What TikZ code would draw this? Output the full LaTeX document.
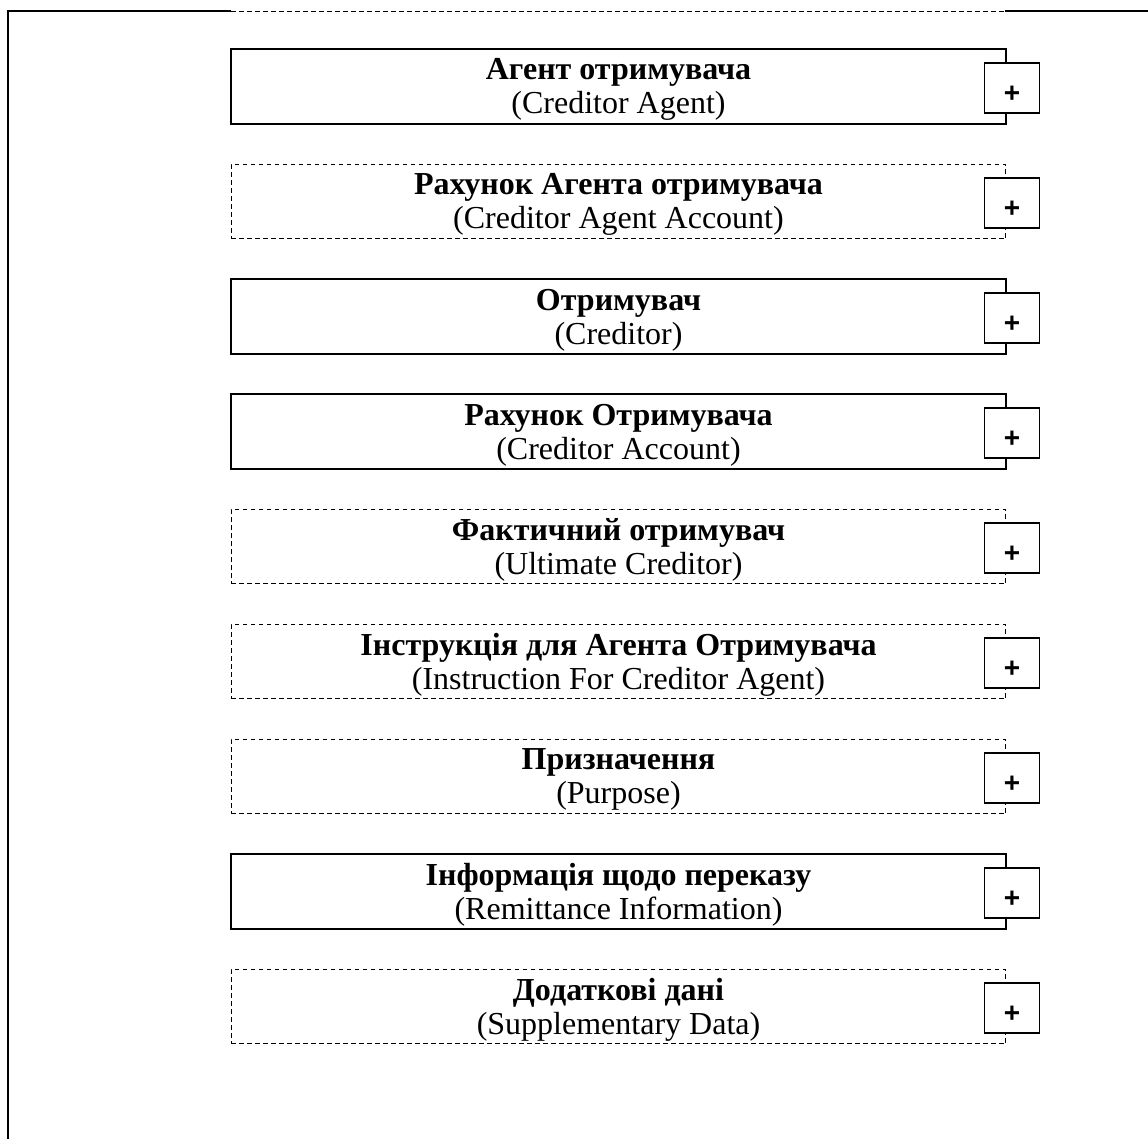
\documentclass[tikz,border=0pt]{standalone}
\usepackage{fontspec}
\setmainfont{Liberation Serif}
\newfontfamily\plusfont{Liberation Sans}
\usetikzlibrary{positioning}

\tikzset{
  elem/.style={rectangle,minimum width=581pt,minimum height=56pt,inner sep=0pt},
  elemsolid/.style={elem,draw,line width=1.2pt},
  elemdashed/.style={elem,draw,line width=0.7pt,dash pattern=on 3.5pt off 2.5pt},
  elemtext/.style={inner sep=0pt,align=center,font=\fontsize{24}{25.5}\selectfont},
  expander/.style={rectangle,draw,fill=white,line width=1.2pt,
    minimum width=41pt,minimum height=37.5pt,inner sep=0pt},
  plussign/.style={inner sep=0pt,font=\plusfont\bfseries\fontsize{21}{21}\selectfont},
}

\begin{document}
\begin{tikzpicture}[x=0.75pt,y=-0.75pt]
\useasboundingbox (0,0) rectangle (1148,1139);
% outer frame
\coordinate (fbl) at (8,1139);
\coordinate (ftl) at (8,11);
\coordinate (fa) at (231,11);
\coordinate (fb) at (1005,11);
\coordinate (ftr) at (1148,11);
\draw[line width=1.5pt] (fbl) -- (ftl) -- (fa);
\draw[line width=0.7pt,dash pattern=on 3.5pt off 2.5pt] (fa) -- (fb);
\draw[line width=1.5pt] (fb) -- (ftr);
% elements
\foreach \i/\kind/\ua/\en in {
  0/elemsolid/Агент отримувача/Creditor Agent,
  1/elemdashed/Рахунок Агента отримувача/Creditor Agent Account,
  2/elemsolid/Отримувач/Creditor,
  3/elemsolid/Рахунок Отримувача/Creditor Account,
  4/elemdashed/Фактичний отримувач/Ultimate Creditor,
  5/elemdashed/Інструкція для Агента Отримувача/Instruction For Creditor Agent,
  6/elemdashed/Призначення/Purpose,
  7/elemsolid/Інформація щодо переказу/Remittance Information,
  8/elemdashed/Додаткові дані/Supplementary Data}{
  \node[\kind] (el\i) at (618.5,86.5+115*\i) {};
  \node[elemtext,yshift=-2.5pt] (tx\i) at (el\i.center) {\textbf{\ua}\\(\en)};
  \node[expander] (pl\i) at (1012,88+115*\i) {};
  \node[plussign,yshift=-4.5pt] (ps\i) at (pl\i.center) {+};
}
\end{tikzpicture}
\end{document}
